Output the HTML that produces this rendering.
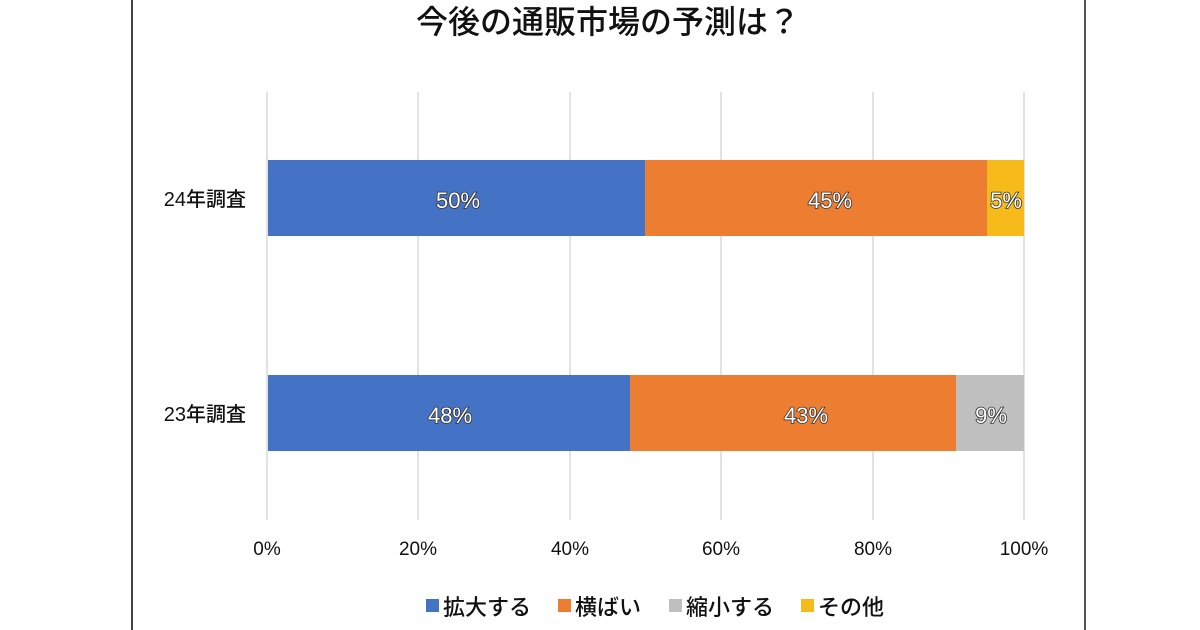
<!DOCTYPE html>
<html><head><meta charset="utf-8"><style>
body{margin:0;width:1200px;height:630px;background:#fff;overflow:hidden;position:relative;font-family:"Liberation Sans","Noto Sans CJK JP",sans-serif;}
</style></head><body>
<svg width="1200" height="630" xmlns="http://www.w3.org/2000/svg" style="position:absolute;left:0;top:0">
<line x1="132" y1="0" x2="132" y2="630" stroke="#444" stroke-width="2"/>
<line x1="1085" y1="0" x2="1085" y2="630" stroke="#555" stroke-width="2"/>
<text x="608" y="33" font-size="32" text-anchor="middle" fill="#111" font-weight="500" font-family="Liberation Sans,Noto Sans CJK JP,sans-serif">今後の通販市場の予測は？</text>
<g stroke="#d9d9d9" stroke-width="1.5">
<line x1="267" y1="92" x2="267" y2="520"/><line x1="418" y1="92" x2="418" y2="520"/>
<line x1="570" y1="92" x2="570" y2="520"/><line x1="721" y1="92" x2="721" y2="520"/>
<line x1="873" y1="92" x2="873" y2="520"/><line x1="1024" y1="92" x2="1024" y2="520"/>
</g>
<rect x="268" y="160" width="377" height="76" fill="#4472c4"/>
<rect x="645" y="160" width="342" height="76" fill="#ed7d31"/>
<rect x="987" y="160" width="37" height="76" fill="#f6bb1b"/>
<rect x="268" y="375" width="362" height="76" fill="#4472c4"/>
<rect x="630" y="375" width="326" height="76" fill="#ed7d31"/>
<rect x="956" y="375" width="68" height="76" fill="#bfbfbf"/>
<g font-size="22" text-anchor="middle" fill="#fff" stroke="#333" stroke-width="1.6" paint-order="stroke" font-family="Liberation Sans,sans-serif">
<text x="458" y="208">50%</text><text x="830" y="208">45%</text><text x="1006" y="208">5%</text>
<text x="450" y="423">48%</text><text x="806" y="423">43%</text><text x="991" y="423">9%</text>
</g>
<g font-size="20" text-anchor="end" fill="#111" font-weight="500">
<text x="246" y="206">24年調査</text><text x="246" y="421">23年調査</text>
</g>
<g font-size="19" text-anchor="middle" fill="#111">
<text x="267" y="555">0%</text><text x="418" y="555">20%</text><text x="570" y="555">40%</text>
<text x="721" y="555">60%</text><text x="873" y="555">80%</text><text x="1024" y="555">100%</text>
</g>
<g font-size="22" fill="#111" font-weight="500">
<rect x="426" y="599" width="13" height="13" fill="#4472c4"/><text x="443" y="615">拡大する</text>
<rect x="558" y="599" width="13" height="13" fill="#ed7d31"/><text x="575" y="615">横ばい</text>
<rect x="669" y="599" width="13" height="13" fill="#bfbfbf"/><text x="686" y="615">縮小する</text>
<rect x="801" y="599" width="13" height="13" fill="#f6bb1b"/><text x="818" y="615">その他</text>
</g>
</svg>
</body></html>
